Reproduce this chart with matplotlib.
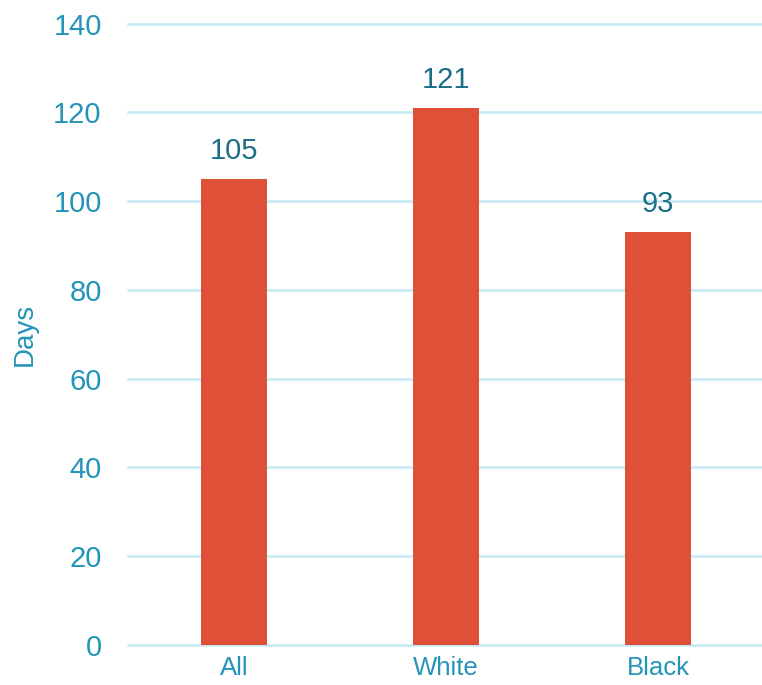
import matplotlib.pyplot as plt

plt.rcParams['font.family'] = ['Liberation Sans', 'DejaVu Sans']

groups = ["All", "White", "Black"]
days = [105, 121, 93]
yticks = [0, 20, 40, 60, 80, 100, 120, 140]

bar_color = '#DE5138'
tick_color = '#2494B8'
label_color = '#1C6E88'
grid_color = '#C4E9F4'

fig = plt.figure(figsize=(7.62, 6.85), dpi=100)
ax = fig.add_axes([0.168, 0.0584, 0.835, 0.907])

x = range(len(groups))
bars = ax.bar(x, days, width=0.31, color=bar_color, zorder=3)

# value above each bar
for rect, val in zip(bars, days):
    ax.annotate(str(val), (rect.get_x() + rect.get_width() / 2, val),
                xytext=(0, 10), textcoords='offset points',
                ha='center', va='bottom', fontsize=21, color=label_color)

ax.set_xlim(-0.5, 2.5)
ax.set_ylim(0, 140)
ax.set_yticks(yticks)
ax.set_xticks(list(x))
ax.set_xticklabels(groups)

ax.tick_params(axis='y', length=0, pad=19, labelsize=21, labelcolor=tick_color)
ax.tick_params(axis='x', length=0, pad=8, labelsize=18.5, labelcolor=tick_color)

ax.grid(axis='y', color=grid_color, linewidth=1.8, zorder=0)
ax.set_axisbelow(True)
for line in ax.get_ygridlines():
    line.set_clip_on(False)
for s in ax.spines.values():
    s.set_visible(False)

ax.set_ylabel("Days", fontsize=20, color=tick_color, labelpad=11)

fig.savefig("out.png", dpi=100)
